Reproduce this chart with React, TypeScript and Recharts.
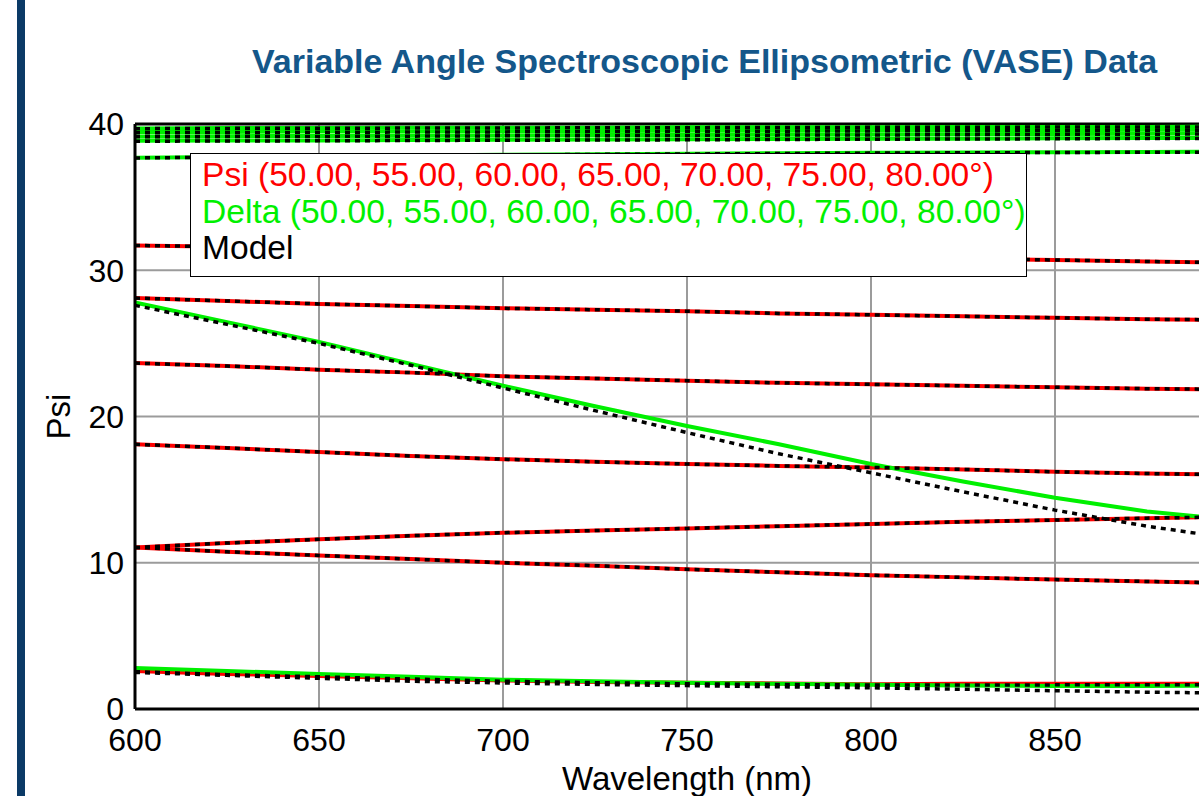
import React from "react";
import { LineChart, Line, XAxis, YAxis, CartesianGrid, ReferenceLine } from "recharts";

const wavelengths = [600, 625, 650, 675, 700, 725, 750, 775, 800, 825, 850, 875, 900];
const xTicks = [600, 650, 700, 750, 800, 850];
const yTicks = [0, 10, 20, 30, 40];
const angles = ["50", "55", "60", "65", "70", "75", "80"];

// Psi data (red)
const psi50 = [31.7, 31.6, 31.5, 31.4, 31.3, 31.2, 31.1, 31.0, 30.9, 30.8, 30.7, 30.6, 30.5];
const psi55 = [28.1, 27.9, 27.7, 27.55, 27.4, 27.3, 27.2, 27.05, 26.95, 26.85, 26.75, 26.65, 26.6];
const psi60 = [23.65, 23.45, 23.2, 23.0, 22.75, 22.6, 22.45, 22.3, 22.2, 22.1, 22.0, 21.9, 21.85];
const psi65 = [18.1, 17.85, 17.57, 17.3, 17.08, 16.9, 16.75, 16.62, 16.52, 16.38, 16.22, 16.1, 16.0];
const psi70 = [11.05, 11.35, 11.6, 11.85, 12.05, 12.2, 12.35, 12.5, 12.65, 12.8, 12.92, 13.05, 13.15];
const psi75 = [11.05, 10.75, 10.5, 10.25, 10.0, 9.8, 9.55, 9.35, 9.15, 9.0, 8.85, 8.72, 8.6];
const psi80 = [2.6, 2.4, 2.25, 2.1, 1.95, 1.85, 1.8, 1.75, 1.7, 1.72, 1.72, 1.72, 1.72];

// Delta data (green)
const delta50 = [39.7, 39.72, 39.72, 39.74, 39.75, 39.75, 39.77, 39.78, 39.78, 39.79, 39.8, 39.8, 39.81];
const delta55 = [39.45, 39.46, 39.48, 39.49, 39.5, 39.52, 39.53, 39.54, 39.55, 39.57, 39.58, 39.6, 39.6];
const delta60 = [39.15, 39.17, 39.18, 39.2, 39.22, 39.24, 39.25, 39.27, 39.29, 39.3, 39.32, 39.34, 39.35];
const delta65 = [38.85, 38.87, 38.88, 38.9, 38.92, 38.94, 38.95, 38.97, 38.99, 39.0, 39.02, 39.04, 39.05];
const delta70 = [37.7, 37.75, 37.8, 37.85, 37.9, 37.94, 37.97, 38.0, 38.03, 38.05, 38.07, 38.09, 38.1];
const delta75 = [27.8, 26.45, 25.1, 23.6, 22.1, 20.7, 19.35, 18.1, 16.75, 15.55, 14.45, 13.5, 12.9];
const delta80 = [2.8, 2.6, 2.4, 2.2, 2.0, 1.9, 1.8, 1.72, 1.65, 1.6, 1.57, 1.58, 1.6];

// Model fits (black dotted)
const modelPsi50 = [31.7, 31.6, 31.5, 31.4, 31.3, 31.2, 31.1, 31.0, 30.9, 30.8, 30.7, 30.6, 30.5];
const modelPsi55 = [28.1, 27.9, 27.7, 27.55, 27.4, 27.3, 27.2, 27.05, 26.95, 26.85, 26.75, 26.65, 26.6];
const modelPsi60 = [23.65, 23.45, 23.2, 23.0, 22.75, 22.6, 22.45, 22.3, 22.2, 22.1, 22.0, 21.9, 21.85];
const modelPsi65 = [18.1, 17.85, 17.57, 17.3, 17.08, 16.9, 16.75, 16.62, 16.52, 16.38, 16.22, 16.1, 16.0];
const modelPsi70 = [11.05, 11.35, 11.6, 11.85, 12.05, 12.2, 12.35, 12.5, 12.65, 12.8, 12.92, 13.05, 13.15];
const modelPsi75 = [11.05, 10.75, 10.5, 10.25, 10.0, 9.8, 9.55, 9.35, 9.15, 9.0, 8.85, 8.72, 8.6];
const modelPsi80 = [2.55, 2.35, 2.2, 2.05, 1.9, 1.8, 1.72, 1.68, 1.64, 1.64, 1.65, 1.66, 1.66];
const modelDelta50 = [39.68, 39.7, 39.71, 39.72, 39.73, 39.74, 39.75, 39.76, 39.77, 39.78, 39.79, 39.8, 39.8];
const modelDelta55 = [39.4, 39.42, 39.43, 39.45, 39.46, 39.48, 39.5, 39.51, 39.53, 39.54, 39.56, 39.57, 39.58];
const modelDelta60 = [39.12, 39.14, 39.15, 39.17, 39.19, 39.2, 39.22, 39.24, 39.25, 39.27, 39.29, 39.3, 39.32];
const modelDelta65 = [38.82, 38.84, 38.85, 38.87, 38.89, 38.9, 38.92, 38.94, 38.96, 38.97, 38.99, 39.01, 39.02];
const modelDelta70 = [37.68, 37.73, 37.78, 37.83, 37.88, 37.92, 37.95, 37.98, 38.01, 38.03, 38.05, 38.07, 38.08];
const modelDelta75 = [27.6, 26.3, 25.0, 23.5, 21.95, 20.4, 18.9, 17.45, 16.15, 14.85, 13.6, 12.5, 11.6];
const modelDelta80 = [2.5, 2.3, 2.1, 1.9, 1.78, 1.68, 1.6, 1.52, 1.45, 1.35, 1.25, 1.15, 1.08];

const psiSeries = [psi50, psi55, psi60, psi65, psi70, psi75, psi80];
const deltaSeries = [delta50, delta55, delta60, delta65, delta70, delta75, delta80];
const modelSeries = [
  modelPsi50, modelPsi55, modelPsi60, modelPsi65, modelPsi70, modelPsi75, modelPsi80,
  modelDelta50, modelDelta55, modelDelta60, modelDelta65, modelDelta70, modelDelta75, modelDelta80,
];

const rows = wavelengths.map((w, i) => {
  const row: Record<string, number> = { w };
  psiSeries.forEach((s, k) => (row["psi" + angles[k]] = s[i]));
  deltaSeries.forEach((s, k) => (row["delta" + angles[k]] = s[i]));
  modelSeries.forEach((s, k) => (row["model" + k] = s[i]));
  return row;
});

const FONT = '"Liberation Sans", Arial, sans-serif';

export default function App() {
  return (
    <div
      style={{
        position: "fixed",
        left: 0,
        top: 0,
        width: 1199,
        height: 796,
        overflow: "hidden",
        background: "#fff",
        fontFamily: FONT,
      }}
    >
      {/* left accent bar */}
      <div style={{ position: "absolute", left: 17, top: 0, width: 8, height: 796, background: "#0b3a66" }} />

      <div
        style={{
          position: "absolute",
          left: 252,
          top: 44,
          fontSize: 34,
          lineHeight: 1,
          fontWeight: 700,
          color: "#14578a",
          whiteSpace: "nowrap",
        }}
      >
        Variable Angle Spectroscopic Ellipsometric (VASE) Data
      </div>

      <LineChart width={1260} height={820} data={rows} margin={{ top: 124, right: 21, left: 0, bottom: 0 }}>
        <CartesianGrid stroke="#9b9b9b" strokeWidth={2} />
        <XAxis
          dataKey="w"
          type="number"
          domain={[600, 900]}
          ticks={xTicks}
          height={111}
          tickLine={false}
          tickSize={0}
          tickMargin={19}
          axisLine={{ stroke: "#000", strokeWidth: 3 }}
          tick={{ fill: "#000", fontSize: 32 }}
          label={{ value: "Wavelength (nm)", position: "insideBottom", offset: 30, fill: "#000", fontSize: 33 }}
        />
        <YAxis
          type="number"
          domain={[0, 40]}
          ticks={yTicks}
          width={135}
          tickLine={false}
          tickSize={0}
          tickMargin={11}
          axisLine={{ stroke: "#000", strokeWidth: 3 }}
          tick={{ fill: "#000", fontSize: 32 }}
          label={{
            value: "Psi",
            angle: -90,
            position: "insideLeft",
            offset: 58,
            fill: "#000",
            fontSize: 33,
            style: { textAnchor: "middle" },
          }}
        />
        <ReferenceLine y={40} stroke="#000" strokeWidth={3} />
        {angles.map((a) => (
          <Line key={"p" + a} dataKey={"psi" + a} stroke="#ff0000" strokeWidth={4} dot={false} isAnimationActive={false} />
        ))}
        {angles.map((a) => (
          <Line key={"d" + a} dataKey={"delta" + a} stroke="#00f000" strokeWidth={4} dot={false} isAnimationActive={false} />
        ))}
        {modelSeries.map((_, k) => (
          <Line
            key={"m" + k}
            dataKey={"model" + k}
            stroke="#000"
            strokeWidth={3.5}
            strokeDasharray="5 5"
            dot={false}
            isAnimationActive={false}
          />
        ))}
      </LineChart>

      {/* legend box */}
      <div
        style={{
          position: "absolute",
          left: 190,
          top: 153,
          width: 824,
          height: 119,
          border: "1.5px solid #000",
          background: "#fff",
          paddingLeft: 11,
          paddingTop: 3,
          fontSize: 33.6,
          lineHeight: "36.5px",
          whiteSpace: "nowrap",
          boxSizing: "content-box",
        }}
      >
        <div style={{ color: "#ff0000" }}>Psi (50.00, 55.00, 60.00, 65.00, 70.00, 75.00, 80.00°)</div>
        <div style={{ color: "#00f000" }}>Delta (50.00, 55.00, 60.00, 65.00, 70.00, 75.00, 80.00°)</div>
        <div style={{ color: "#000" }}>Model</div>
      </div>
    </div>
  );
}
